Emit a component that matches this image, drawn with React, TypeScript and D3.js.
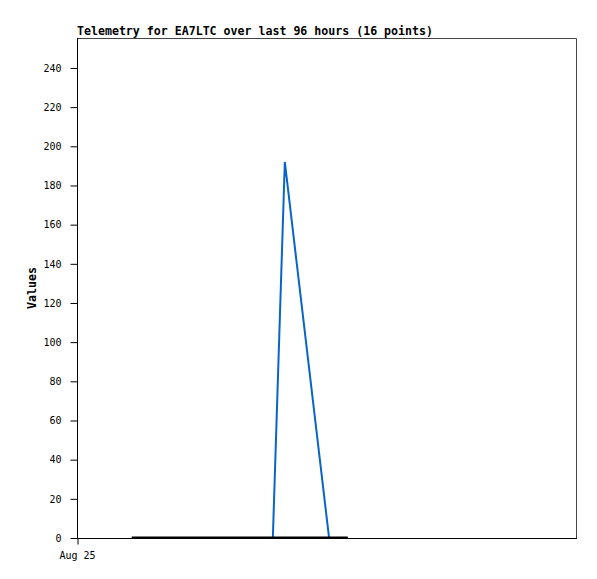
import { useEffect, useRef } from "react";
import * as d3 from "d3";

// hours since Aug 25 00:00
const start = new Date(2023, 7, 25, 0, 0);
const hoursSpan = 96;

const zeroSeriesHours = [10.5, 13.8, 17.2, 20.9, 24.4, 27.6, 31.3, 34.8, 38.2, 41.7, 45.1, 48.6, 52.0];
const zeroSeriesValues = [0, 0, 0, 0, 0, 0, 0, 0, 0, 0, 0, 0, 0];

const blueSeriesHours = [37.6, 39.9, 48.4];
const blueSeriesValues = [0, 192, 0];

const yTicks = [0, 20, 40, 60, 80, 100, 120, 140, 160, 180, 200, 220, 240];
const xTickLabels = ["Aug 25"];

const title = "Telemetry for EA7LTC over last 96 hours (16 points)";
const yLabel = "Values";

const toDate = (h: number) => new Date(start.getTime() + h * 3600 * 1000);

export default function App() {
  const svgRef = useRef<SVGSVGElement>(null);

  useEffect(() => {
    if (!svgRef.current) return;
    const width = 597;
    const height = 579;
    const margin = { top: 38, right: 20, bottom: 41, left: 77 };
    const innerW = width - margin.left - margin.right;
    const innerH = height - margin.top - margin.bottom;

    const svg = d3.select(svgRef.current);
    svg.selectAll("*").remove();
    svg.attr("width", width).attr("height", height);

    const x = d3
      .scaleTime()
      .domain([start, toDate(hoursSpan)])
      .range([0, innerW]);
    const y = d3.scaleLinear().domain([0, 255.3]).range([innerH, 0]);

    const g = svg
      .append("g")
      .attr("transform", `translate(${margin.left},${margin.top})`);

    // frame: top/right
    g.append("path")
      .attr("d", `M0,0.5H${innerW - 0.5}V${innerH}`)
      .attr("fill", "none")
      .attr("stroke", "#444")
      .attr("stroke-width", 1);

    // y axis
    const yAxis = g
      .append("g")
      .attr("transform", "translate(0.5,0)")
      .call(
        d3.axisLeft(y).tickValues(yTicks).tickSize(7).tickPadding(9)
      );
    yAxis.select(".domain").attr("d", `M0,0V${innerH}`).attr("stroke", "#000");
    yAxis
      .selectAll("text")
      .style("font-family", "DejaVu Sans Mono, monospace")
      .style("font-size", "10px")
      .attr("fill", "#000");

    // x axis
    const xAxis = g
      .append("g")
      .attr("transform", `translate(0,${innerH + 0.5})`)
      .call(
        d3
          .axisBottom(x)
          .tickValues([start])
          .tickFormat((_, i) => xTickLabels[i])
          .tickSize(6)
          .tickPadding(7)
      );
    xAxis.select(".domain").attr("d", `M0,0H${innerW}`).attr("stroke", "#000");
    xAxis.selectAll(".tick line").attr("transform", "translate(0.5,0)");
    xAxis
      .selectAll("text")
      .style("font-family", "DejaVu Sans Mono, monospace")
      .style("font-size", "10px")
      .attr("fill", "#000");

    const line = d3
      .line<[number, number]>()
      .x((d) => x(toDate(d[0])))
      .y((d) => y(d[1]));

    g.append("path")
      .datum(blueSeriesHours.map((h, i) => [h, blueSeriesValues[i]] as [number, number]))
      .attr("d", line)
      .attr("fill", "none")
      .attr("stroke", "#0a64c8")
      .attr("stroke-width", 2);

    g.append("path")
      .datum(zeroSeriesHours.map((h, i) => [h, zeroSeriesValues[i]] as [number, number]))
      .attr("d", line)
      .attr("fill", "none")
      .attr("stroke", "#000")
      .attr("stroke-width", 2)
      .attr("transform", "translate(0,-0.5)");

    // title
    svg
      .append("text")
      .attr("x", margin.left)
      .attr("y", 35)
      .style("font-family", "DejaVu Sans Mono, monospace")
      .style("font-size", "11.6px")
      .style("font-weight", "bold")
      .text(title);

    // y label
    svg
      .append("text")
      .attr("transform", `translate(36,${margin.top + innerH / 2}) rotate(-90)`)
      .attr("text-anchor", "middle")
      .style("font-family", "DejaVu Sans Mono, monospace")
      .style("font-size", "11.6px")
      .style("font-weight", "bold")
      .text(yLabel);
  }, []);

  return (
    <div style={{ position: "absolute", left: 0, top: 0, background: "#fff" }}>
      <svg ref={svgRef} style={{ display: "block" }} />
    </div>
  );
}
